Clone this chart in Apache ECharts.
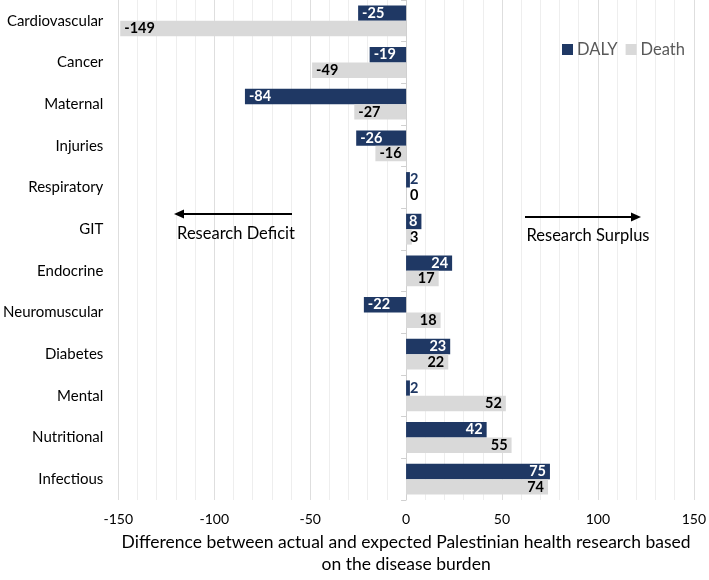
<!DOCTYPE html>
<html><head><meta charset="utf-8">
<script src="https://cdn.jsdelivr.net/npm/echarts@6/dist/echarts.min.js"></script>
<style>html,body{margin:0;padding:0;background:#fff}#c{width:709px;height:580px}</style>
</head><body><div id="c"></div>
<script>
// ---- data ----
const categories = ['Cardiovascular','Cancer','Maternal','Injuries','Respiratory','GIT','Endocrine','Neuromuscular','Diabetes','Mental','Nutritional','Infectious'];
const dalyValues = [-25, -19, -84, -26, 2, 8, 24, -22, 23, 2, 42, 75];
const deathValues = [-149, -49, -27, -16, 0, 3, 17, 18, 22, 52, 55, 74];
const seriesNames = ['DALY', 'Death'];
const xMin = -150, xMax = 150, xStep = 50;
const axisTitle = 'Difference between actual and expected Palestinian health research based\non the disease burden';
const noteLeft = 'Research Deficit';
const noteRight = 'Research Surplus';

// ---- styles ----
const FONT = 'Lato, "Open Sans", sans-serif';
const NAVY = '#1f3864';
const GRAY = '#d9d9d9';

function items(values, insideColor, smallColor) {
  return values.map(v => {
    const small = Math.abs(v) < 5;
    return {
      value: v,
      label: {
        position: small ? 'insideLeft' : (v < 0 ? 'insideLeft' : 'insideRight'),
        color: small ? smallColor : insideColor
      }
    };
  });
}

const chart = echarts.init(document.getElementById('c'), null, {renderer: 'canvas'});
const labelBase = {show: true, fontFamily: FONT, fontWeight: 'bold', fontSize: 14.5, distance: 4};

chart.setOption({
  animation: false,
  textStyle: {fontFamily: FONT},
  grid: {left: 117, right: 9, top: 0, bottom: 72, containLabel: false},
  legend: {
    data: seriesNames, left: 557, top: 36, icon: 'rect', itemWidth: 11, itemHeight: 11, itemGap: 8,
    textStyle: {fontFamily: FONT, fontSize: 16.5, color: '#595959', padding: [0, 0, 0, -1]}
  },
  xAxis: {
    type: 'value', min: xMin, max: xMax, interval: xStep,
    axisLine: {show: false}, axisTick: {show: false},
    axisLabel: {fontFamily: FONT, fontSize: 14, color: '#000', margin: 12},
    splitLine: {show: true, lineStyle: {color: '#dedede', width: 1}},
    minorTick: {show: false, splitNumber: 5},
    minorSplitLine: {show: true, lineStyle: {color: '#eeeeee', width: 1}},
    name: axisTitle, nameLocation: 'middle', nameGap: 31,
    nameTextStyle: {fontFamily: FONT, fontSize: 17.5, color: '#000', lineHeight: 22}
  },
  yAxis: [
    {
      type: 'category', data: categories, inverse: true, position: 'left',
      axisLine: {show: false, onZero: false}, axisTick: {show: false},
      axisLabel: {fontFamily: FONT, fontSize: 15, color: '#000', margin: 15},
      splitLine: {show: false}
    },
    {
      type: 'category', data: categories, inverse: true,
      axisLine: {show: true, onZero: true, lineStyle: {color: '#d0d0d0', width: 1}},
      axisTick: {show: true, inside: true, length: 5, lineStyle: {color: '#d0d0d0'}},
      axisLabel: {show: false}, splitLine: {show: false}
    }
  ],
  series: [
    {
      name: seriesNames[0], type: 'bar', yAxisIndex: 0, barGap: '0%', barCategoryGap: '26%',
      itemStyle: {color: NAVY},
      label: Object.assign({}, labelBase),
      data: items(dalyValues, '#ffffff', NAVY)
    },
    {
      name: seriesNames[1], type: 'bar', yAxisIndex: 0, barGap: '0%', barCategoryGap: '26%',
      itemStyle: {color: GRAY},
      label: Object.assign({}, labelBase),
      data: items(deathValues, '#000000', '#000000')
    }
  ],
  graphic: [
    {type: 'polyline', z: 100, shape: {points: [[292, 214], [181, 214]]}, style: {stroke: '#000', lineWidth: 2, fill: null}},
    {type: 'polygon', z: 100, shape: {points: [[174, 214], [184, 209.5], [184, 218.5]]}, style: {fill: '#000'}},
    {type: 'text', z: 100, x: 236, y: 234, style: {text: noteLeft, fill: '#000', fontFamily: FONT, fontSize: 16.5, align: 'center', verticalAlign: 'middle'}},
    {type: 'polyline', z: 100, shape: {points: [[525, 217], [634, 217]]}, style: {stroke: '#000', lineWidth: 2, fill: null}},
    {type: 'polygon', z: 100, shape: {points: [[641, 217], [631, 212.5], [631, 221.5]]}, style: {fill: '#000'}},
    {type: 'text', z: 100, x: 588, y: 236, style: {text: noteRight, fill: '#000', fontFamily: FONT, fontSize: 16.5, align: 'center', verticalAlign: 'middle'}}
  ]
});
</script>
</body></html>
